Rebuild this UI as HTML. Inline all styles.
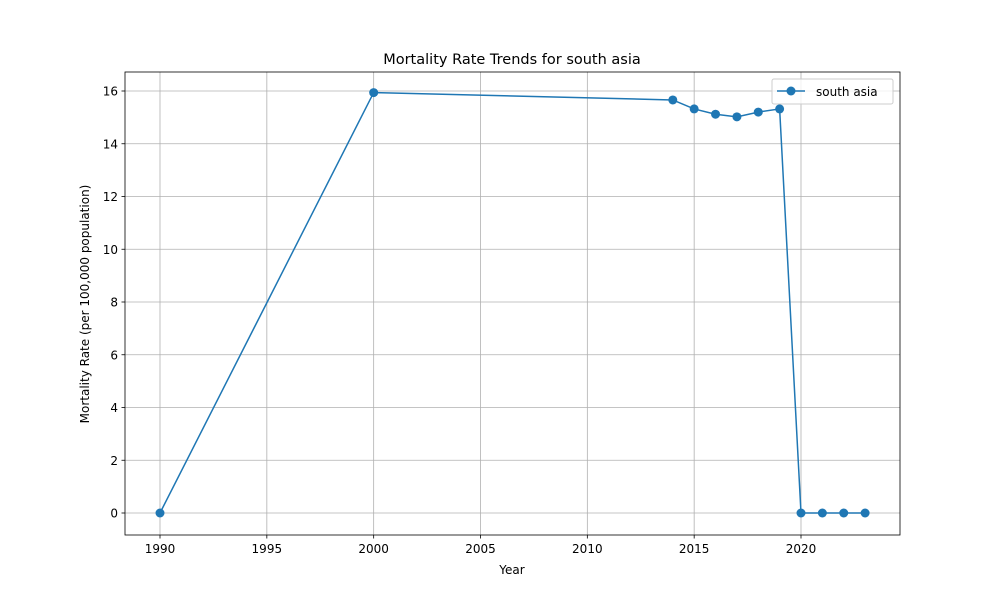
<!DOCTYPE html>
<html><head><meta charset="utf-8"><style>
body{margin:0;background:#fff;font-family:"Liberation Sans","DejaVu Sans",sans-serif}
svg text{font-family:"DejaVu Sans","Liberation Sans",sans-serif}
</style></head><body>
<svg id="chart" width="1000" height="600" xmlns="http://www.w3.org/2000/svg"></svg>
<script>
const years=[1990,2000,2014,2015,2016,2017,2018,2019,2020,2021,2022,2023];
const rates=[0,15.94,15.66,15.32,15.12,15.02,15.2,15.32,0,0,0,0];
const xTicks=[1990,1995,2000,2005,2010,2015,2020];
const yTicks=[0,2,4,6,8,10,12,14,16];
const L=125,R=900,T=72,B=535;
const xs=v=>160+(v-1990)*(801-160)/30;
const ys=v=>513-v*(513-91)/16;
const svg=document.getElementById('chart');
const NS='http://www.w3.org/2000/svg';
function mk(tag,attrs,parent){const e=document.createElementNS(NS,tag);for(const k in attrs)e.setAttribute(k,attrs[k]);(parent||svg).appendChild(e);return e;}
const grid=mk('g',{});


xTicks.forEach(t=>{const x=xs(t);
mk('line',{x1:x,x2:x,y1:T,y2:B,stroke:'#b0b0b0','stroke-width':0.8},grid);
mk('line',{x1:x,x2:x,y1:B,y2:B+3.5,stroke:'#000','stroke-width':0.8});
const tx=mk('text',{x:x,y:B+18,'text-anchor':'middle','font-size':'12'});tx.textContent=t;

});
yTicks.forEach(t=>{const y=ys(t);
mk('line',{x1:L,x2:R,y1:y,y2:y,stroke:'#b0b0b0','stroke-width':0.8},grid);
mk('line',{x1:L-3.5,x2:L,y1:y,y2:y,stroke:'#000','stroke-width':0.8});
const tx=mk('text',{x:L-7,y:y+4.5,'text-anchor':'end','font-size':'12'});tx.textContent=t;

});
const frame=mk('rect',{x:L,y:T,width:R-L,height:B-T,fill:'none',stroke:'#000','stroke-width':0.8});


const line=mk('polyline',{points:years.map((y,i)=>xs(y)+','+ys(rates[i])).join(' '),fill:'none',stroke:'#1f77b4','stroke-width':1.5});


years.forEach((y,i)=>{const c=mk('circle',{cx:xs(y),cy:ys(rates[i]),r:4.5,fill:'#1f77b4'});

});
const title=mk('text',{x:512,y:64,'text-anchor':'middle','font-size':'14.5'});title.textContent='Mortality Rate Trends for south asia';


const xl=mk('text',{x:512,y:574,'text-anchor':'middle','font-size':'12'});xl.textContent='Year';


const yl=mk('text',{x:0,y:0,'text-anchor':'middle','font-size':'12',transform:'translate(89,304) rotate(-90)'});yl.textContent='Mortality Rate (per 100,000 population)';


const lg=mk('g',{});


mk('rect',{x:772,y:79,width:121,height:25,rx:2,fill:'#fff','fill-opacity':0.8,stroke:'#ccc'},lg);
mk('line',{x1:777,x2:805,y1:91,y2:91,stroke:'#1f77b4','stroke-width':1.5},lg);
mk('circle',{cx:791,cy:91,r:4.5,fill:'#1f77b4'},lg);
const lt=mk('text',{x:816,y:96,'font-size':'12'},lg);lt.textContent='south asia';


</script>
</body></html>
